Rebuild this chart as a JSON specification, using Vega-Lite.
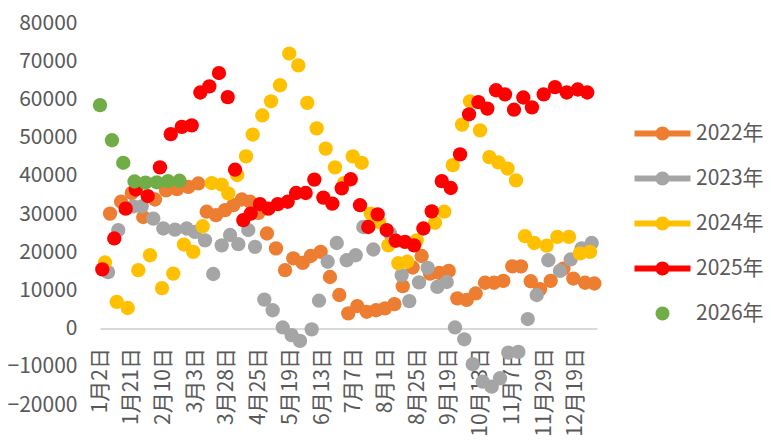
{
  "$schema": "https://vega.github.io/schema/vega-lite/v6.json",
  "width": 497,
  "height": 382,
  "autosize": {"type": "none"},
  "padding": {"left": 100, "top": 23, "right": 174, "bottom": 35},
  "background": "white",
  "config": {
    "view": {"stroke": null},
    "font": "Noto Sans CJK SC",
    "axis": {"labelFont": "Noto Sans CJK SC", "labelColor": "#595959", "labelFontSize": 21, "grid": false, "ticks": false, "title": null},
    "legend": {"labelFont": "Noto Sans CJK SC", "labelColor": "#595959", "labelFontSize": 21}
  },
  "data": {
    "values": [
      {"s": "2022年", "t": 0.95, "v": 30100},
      {"s": "2022年", "t": 1.99, "v": 33200},
      {"s": "2022年", "t": 3.0, "v": 35500},
      {"s": "2022年", "t": 4.09, "v": 29200},
      {"s": "2022年", "t": 5.2, "v": 33800},
      {"s": "2022年", "t": 6.24, "v": 36200},
      {"s": "2022年", "t": 7.28, "v": 36500},
      {"s": "2022年", "t": 8.35, "v": 37100},
      {"s": "2022年", "t": 9.3, "v": 38000},
      {"s": "2022年", "t": 10.09, "v": 30600},
      {"s": "2022年", "t": 10.97, "v": 29700},
      {"s": "2022年", "t": 11.82, "v": 31000},
      {"s": "2022年", "t": 12.61, "v": 32300},
      {"s": "2022年", "t": 13.41, "v": 33800},
      {"s": "2022年", "t": 14.19, "v": 33200},
      {"s": "2022年", "t": 14.99, "v": 30300},
      {"s": "2022年", "t": 15.79, "v": 24900},
      {"s": "2022年", "t": 16.64, "v": 21000},
      {"s": "2022年", "t": 17.5, "v": 15300},
      {"s": "2022年", "t": 18.28, "v": 18400},
      {"s": "2022年", "t": 19.17, "v": 17200},
      {"s": "2022年", "t": 19.93, "v": 19000},
      {"s": "2022年", "t": 20.87, "v": 20100},
      {"s": "2022年", "t": 21.75, "v": 13500},
      {"s": "2022年", "t": 22.63, "v": 8800},
      {"s": "2022年", "t": 23.48, "v": 4000},
      {"s": "2022年", "t": 24.33, "v": 5900},
      {"s": "2022年", "t": 25.22, "v": 4400},
      {"s": "2022年", "t": 26.1, "v": 4800},
      {"s": "2022年", "t": 26.95, "v": 5300},
      {"s": "2022年", "t": 27.84, "v": 6400},
      {"s": "2022年", "t": 28.63, "v": 11100},
      {"s": "2022年", "t": 29.57, "v": 16000},
      {"s": "2022年", "t": 30.42, "v": 19000},
      {"s": "2022年", "t": 31.21, "v": 14400},
      {"s": "2022年", "t": 32.09, "v": 14600},
      {"s": "2022年", "t": 32.98, "v": 15100},
      {"s": "2022年", "t": 33.79, "v": 7900},
      {"s": "2022年", "t": 34.68, "v": 7500},
      {"s": "2022年", "t": 35.53, "v": 9200},
      {"s": "2022年", "t": 36.41, "v": 12000},
      {"s": "2022年", "t": 37.26, "v": 12000},
      {"s": "2022年", "t": 38.14, "v": 12500},
      {"s": "2022年", "t": 38.99, "v": 16300},
      {"s": "2022年", "t": 39.81, "v": 16300},
      {"s": "2022年", "t": 40.73, "v": 12400},
      {"s": "2022年", "t": 41.61, "v": 10300},
      {"s": "2022年", "t": 42.62, "v": 12500},
      {"s": "2022年", "t": 43.82, "v": 15700},
      {"s": "2022年", "t": 44.76, "v": 13100},
      {"s": "2022年", "t": 45.87, "v": 12000},
      {"s": "2022年", "t": 46.75, "v": 11800},

      {"s": "2023年", "t": 0.76, "v": 14800},
      {"s": "2023年", "t": 1.73, "v": 25800},
      {"s": "2023年", "t": 3.15, "v": 32000},
      {"s": "2023年", "t": 3.94, "v": 32000},
      {"s": "2023年", "t": 5.04, "v": 28800},
      {"s": "2023年", "t": 5.99, "v": 26200},
      {"s": "2023年", "t": 7.09, "v": 25900},
      {"s": "2023年", "t": 8.2, "v": 26200},
      {"s": "2023年", "t": 8.98, "v": 25300},
      {"s": "2023年", "t": 9.93, "v": 23100},
      {"s": "2023年", "t": 10.71, "v": 14300},
      {"s": "2023年", "t": 11.51, "v": 21800},
      {"s": "2023年", "t": 12.3, "v": 24500},
      {"s": "2023年", "t": 13.08, "v": 22100},
      {"s": "2023年", "t": 14.02, "v": 25800},
      {"s": "2023年", "t": 14.66, "v": 21400},
      {"s": "2023年", "t": 15.54, "v": 7600},
      {"s": "2023年", "t": 16.33, "v": 4800},
      {"s": "2023年", "t": 17.28, "v": 300},
      {"s": "2023年", "t": 18.12, "v": -1700},
      {"s": "2023年", "t": 18.91, "v": -3200},
      {"s": "2023年", "t": 20.02, "v": -200},
      {"s": "2023年", "t": 20.71, "v": 7300},
      {"s": "2023年", "t": 21.53, "v": 17500},
      {"s": "2023年", "t": 22.39, "v": 22400},
      {"s": "2023年", "t": 23.33, "v": 17900},
      {"s": "2023年", "t": 24.18, "v": 19200},
      {"s": "2023年", "t": 24.9, "v": 26600},
      {"s": "2023年", "t": 25.85, "v": 20700},
      {"s": "2023年", "t": 27.43, "v": 24900},
      {"s": "2023年", "t": 28.53, "v": 14000},
      {"s": "2023年", "t": 29.25, "v": 7200},
      {"s": "2023年", "t": 30.17, "v": 12100},
      {"s": "2023年", "t": 30.99, "v": 15900},
      {"s": "2023年", "t": 31.9, "v": 10900},
      {"s": "2023年", "t": 32.79, "v": 12200},
      {"s": "2023年", "t": 33.57, "v": 300},
      {"s": "2023年", "t": 34.45, "v": -2800},
      {"s": "2023年", "t": 35.25, "v": -9300},
      {"s": "2023年", "t": 36.19, "v": -13900},
      {"s": "2023年", "t": 37.04, "v": -15200},
      {"s": "2023年", "t": 37.83, "v": -13000},
      {"s": "2023年", "t": 38.61, "v": -6300},
      {"s": "2023年", "t": 39.56, "v": -6100},
      {"s": "2023年", "t": 40.45, "v": 2500},
      {"s": "2023年", "t": 41.3, "v": 8800},
      {"s": "2023年", "t": 42.4, "v": 17900},
      {"s": "2023年", "t": 43.5, "v": 15100},
      {"s": "2023年", "t": 44.51, "v": 18100},
      {"s": "2023年", "t": 45.55, "v": 21000},
      {"s": "2023年", "t": 46.5, "v": 22400},

      {"s": "2024年", "t": 0.47, "v": 17300},
      {"s": "2024年", "t": 1.58, "v": 7000},
      {"s": "2024年", "t": 2.62, "v": 5400},
      {"s": "2024年", "t": 3.62, "v": 15300},
      {"s": "2024年", "t": 4.73, "v": 19200},
      {"s": "2024年", "t": 5.86, "v": 10600},
      {"s": "2024年", "t": 6.93, "v": 14400},
      {"s": "2024年", "t": 7.93, "v": 22000},
      {"s": "2024年", "t": 8.82, "v": 20100},
      {"s": "2024年", "t": 9.71, "v": 26800},
      {"s": "2024年", "t": 10.56, "v": 38100},
      {"s": "2024年", "t": 11.51, "v": 37700},
      {"s": "2024年", "t": 12.13, "v": 35400},
      {"s": "2024年", "t": 12.98, "v": 40200},
      {"s": "2024年", "t": 13.81, "v": 45100},
      {"s": "2024年", "t": 14.44, "v": 50800},
      {"s": "2024年", "t": 15.35, "v": 55800},
      {"s": "2024年", "t": 16.17, "v": 59500},
      {"s": "2024年", "t": 17.02, "v": 63700},
      {"s": "2024年", "t": 17.9, "v": 72000},
      {"s": "2024年", "t": 18.75, "v": 68900},
      {"s": "2024年", "t": 19.6, "v": 59100},
      {"s": "2024年", "t": 20.49, "v": 52400},
      {"s": "2024年", "t": 21.34, "v": 47100},
      {"s": "2024年", "t": 22.22, "v": 42200},
      {"s": "2024年", "t": 23.07, "v": 38100},
      {"s": "2024年", "t": 23.9, "v": 45100},
      {"s": "2024年", "t": 24.75, "v": 43400},
      {"s": "2024年", "t": 25.6, "v": 30100},
      {"s": "2024年", "t": 26.39, "v": 27900},
      {"s": "2024年", "t": 27.27, "v": 21800},
      {"s": "2024年", "t": 28.21, "v": 17100},
      {"s": "2024年", "t": 29.06, "v": 17500},
      {"s": "2024年", "t": 29.95, "v": 23100},
      {"s": "2024年", "t": 31.68, "v": 27700},
      {"s": "2024年", "t": 32.56, "v": 30600},
      {"s": "2024年", "t": 33.36, "v": 42800},
      {"s": "2024年", "t": 34.24, "v": 53400},
      {"s": "2024年", "t": 34.99, "v": 59500},
      {"s": "2024年", "t": 35.94, "v": 51900},
      {"s": "2024年", "t": 36.82, "v": 44900},
      {"s": "2024年", "t": 37.67, "v": 43500},
      {"s": "2024年", "t": 38.54, "v": 41900},
      {"s": "2024年", "t": 39.34, "v": 38800},
      {"s": "2024年", "t": 40.19, "v": 24200},
      {"s": "2024年", "t": 41.07, "v": 22400},
      {"s": "2024年", "t": 42.24, "v": 21700},
      {"s": "2024年", "t": 43.25, "v": 24000},
      {"s": "2024年", "t": 44.35, "v": 24000},
      {"s": "2024年", "t": 45.39, "v": 19700},
      {"s": "2024年", "t": 46.34, "v": 20100},

      {"s": "2025年", "t": 0.22, "v": 15500},
      {"s": "2025年", "t": 1.35, "v": 23600},
      {"s": "2025年", "t": 2.43, "v": 31400},
      {"s": "2025年", "t": 3.38, "v": 36400},
      {"s": "2025年", "t": 4.51, "v": 34700},
      {"s": "2025年", "t": 5.67, "v": 42200},
      {"s": "2025年", "t": 6.69, "v": 50900},
      {"s": "2025年", "t": 7.73, "v": 52800},
      {"s": "2025年", "t": 8.67, "v": 53200},
      {"s": "2025年", "t": 9.49, "v": 61800},
      {"s": "2025年", "t": 10.34, "v": 63400},
      {"s": "2025年", "t": 11.25, "v": 66900},
      {"s": "2025年", "t": 12.08, "v": 60600},
      {"s": "2025年", "t": 12.77, "v": 41600},
      {"s": "2025年", "t": 13.55, "v": 28400},
      {"s": "2025年", "t": 14.25, "v": 30100},
      {"s": "2025年", "t": 15.13, "v": 32600},
      {"s": "2025年", "t": 15.92, "v": 31400},
      {"s": "2025年", "t": 16.81, "v": 32600},
      {"s": "2025年", "t": 17.75, "v": 33200},
      {"s": "2025年", "t": 18.54, "v": 35500},
      {"s": "2025年", "t": 19.45, "v": 35500},
      {"s": "2025年", "t": 20.27, "v": 39000},
      {"s": "2025年", "t": 21.12, "v": 34300},
      {"s": "2025年", "t": 21.97, "v": 32700},
      {"s": "2025年", "t": 22.86, "v": 36700},
      {"s": "2025年", "t": 23.71, "v": 39100},
      {"s": "2025年", "t": 24.59, "v": 32300},
      {"s": "2025年", "t": 25.37, "v": 26600},
      {"s": "2025年", "t": 26.26, "v": 29900},
      {"s": "2025年", "t": 27.11, "v": 25800},
      {"s": "2025年", "t": 27.96, "v": 23000},
      {"s": "2025年", "t": 28.84, "v": 22700},
      {"s": "2025年", "t": 29.7, "v": 21800},
      {"s": "2025年", "t": 30.58, "v": 26200},
      {"s": "2025年", "t": 31.37, "v": 30700},
      {"s": "2025年", "t": 32.32, "v": 38600},
      {"s": "2025年", "t": 33.17, "v": 36800},
      {"s": "2025年", "t": 34.05, "v": 45600},
      {"s": "2025年", "t": 34.9, "v": 56100},
      {"s": "2025年", "t": 35.78, "v": 59300},
      {"s": "2025年", "t": 36.63, "v": 57600},
      {"s": "2025年", "t": 37.45, "v": 62400},
      {"s": "2025年", "t": 38.3, "v": 61300},
      {"s": "2025年", "t": 39.15, "v": 57300},
      {"s": "2025年", "t": 40.03, "v": 60500},
      {"s": "2025年", "t": 40.85, "v": 57900},
      {"s": "2025年", "t": 41.96, "v": 61300},
      {"s": "2025年", "t": 43.03, "v": 63200},
      {"s": "2025年", "t": 44.14, "v": 61800},
      {"s": "2025年", "t": 45.18, "v": 62600},
      {"s": "2025年", "t": 46.08, "v": 61800},

      {"s": "2026年", "t": 0.0, "v": 58500},
      {"s": "2026年", "t": 1.13, "v": 49300},
      {"s": "2026年", "t": 2.2, "v": 43400},
      {"s": "2026年", "t": 3.26, "v": 38500},
      {"s": "2026年", "t": 4.3, "v": 38200},
      {"s": "2026年", "t": 5.37, "v": 38300},
      {"s": "2026年", "t": 6.43, "v": 38600},
      {"s": "2026年", "t": 7.52, "v": 38700}
    ]
  },
  "encoding": {
    "x": {
      "field": "t",
      "type": "quantitative",
      "scale": {"domain": [0, 47], "nice": false, "zero": false},
      "axis": {
        "values": [0, 3, 6, 9, 12, 15, 18, 21, 24, 27, 30, 33, 36, 39, 42, 45],
        "labelExpr": "['1月2日','1月21日','2月10日','3月3日','3月28日','4月25日','5月19日','6月13日','7月7日','8月1日','8月25日','9月19日','10月13日','11月7日','11月29日','12月19日'][round(datum.value / 3)]",
        "labelAngle": -90,
        "labelAlign": "right",
        "labelBaseline": "middle",
        "labelPadding": 19,
        "labelOverlap": false,
        "labelBound": false,
        "labelFlush": false,
        "offset": -76.5,
        "domain": true,
        "domainColor": "#d9d9d9",
        "domainWidth": 2
      }
    },
    "y": {
      "field": "v",
      "type": "quantitative",
      "scale": {"domain": [-20000, 80000], "nice": false, "zero": false},
      "axis": {
        "values": [-20000, -10000, 0, 10000, 20000, 30000, 40000, 50000, 60000, 70000, 80000],
        "format": "d",
        "domain": false,
        "labelPadding": 23
      }
    },
    "color": {
      "field": "s",
      "type": "nominal",
      "scale": {
        "domain": ["2022年", "2023年", "2024年", "2025年", "2026年"],
        "range": ["#ED7D31", "#A5A5A5", "#FFC000", "#FF0000", "#70AD47"]
      },
      "legend": {
        "title": null,
        "orient": "none",
        "legendX": 552,
        "legendY": 100,
        "padding": 0,
        "symbolSize": 196,
        "symbolStrokeWidth": 0,
        "symbolOpacity": 1,
        "labelOffset": 23,
        "rowPadding": 23
      }
    }
  },
  "layer": [
    {
      "mark": {"type": "circle", "size": 205, "opacity": 1}
    },
    {
      "transform": [{"filter": "datum.s === '图例'"}],
      "mark": {"type": "point", "filled": true, "opacity": 1},
      "encoding": {
        "shape": {
          "field": "s",
          "type": "nominal",
          "scale": {
            "domain": ["2022年", "2023年", "2024年", "2025年", "2026年"],
            "range": [
              "M-4,-0.42H4V0.42H-4Z M1,0A1,1,0,1,1,-1,0A1,1,0,1,1,1,0Z",
              "M-4,-0.42H4V0.42H-4Z M1,0A1,1,0,1,1,-1,0A1,1,0,1,1,1,0Z",
              "M-4,-0.42H4V0.42H-4Z M1,0A1,1,0,1,1,-1,0A1,1,0,1,1,1,0Z",
              "M-4,-0.42H4V0.42H-4Z M1,0A1,1,0,1,1,-1,0A1,1,0,1,1,1,0Z",
              "circle"
            ]
          },
          "legend": {
            "title": null,
            "orient": "none",
            "legendX": 552,
            "legendY": 100,
            "padding": 0,
            "symbolSize": 196,
            "symbolStrokeWidth": 0,
            "symbolOpacity": 1,
            "labelOffset": 23,
            "rowPadding": 23
          }
        }
      }
    }
  ]
}
